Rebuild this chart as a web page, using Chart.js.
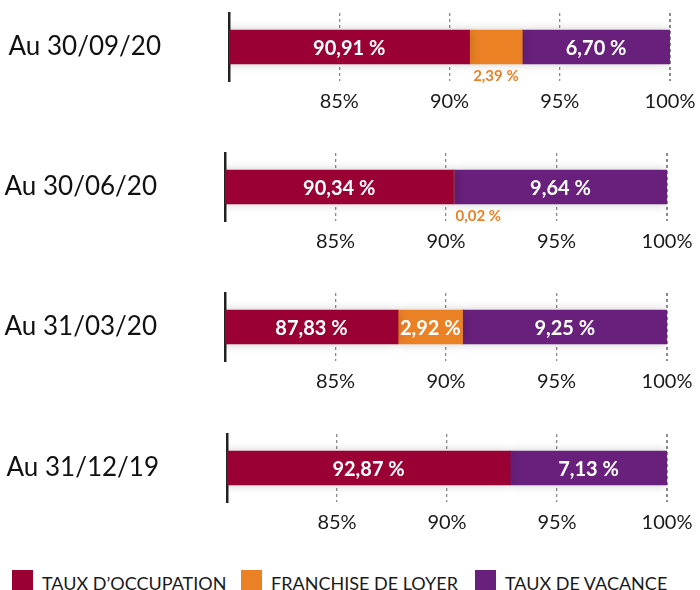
<!DOCTYPE html>
<html lang="fr">
<head>
<meta charset="utf-8">
<script src="https://cdn.jsdelivr.net/npm/chart.js@4/dist/chart.umd.min.js"></script>
<style>
  body { margin: 0; background: #fff; width: 700px; height: 590px; position: relative; font-family: Lato, "DejaVu Sans", sans-serif; }
  .panel { position: absolute; left: 0; width: 700px; height: 140px; }
  #legende { position: absolute; left: 0; top: 570px; width: 700px; height: 21px; }
  .item { position: absolute; top: 0; height: 21px; display: flex; align-items: center; font-size: 18px; color: #1a1a1a; }
  .item span.carre { display: inline-block; width: 21px; height: 21px; margin-right: 9px; }
  .item span.nom { position: relative; top: 2px; }
</style>
</head>
<body>
<div class="panel" style="top:0px"><canvas id="c0" width="700" height="140"></canvas></div>
<div class="panel" style="top:140px"><canvas id="c1" width="700" height="140"></canvas></div>
<div class="panel" style="top:280px"><canvas id="c2" width="700" height="140"></canvas></div>
<div class="panel" style="top:421px"><canvas id="c3" width="700" height="140"></canvas></div>
<div id="legende"></div>

<script>
// Données
const periodes = ["Au 30/09/20", "Au 30/06/20", "Au 31/03/20", "Au 31/12/19"];
const tauxOccupation = [90.91, 90.34, 87.83, 92.87];
const franchiseLoyer = [2.39, 0.02, 2.92, null];
const tauxVacance = [6.70, 9.64, 9.25, 7.13];
const graduations = [85, 90, 95, 100];
const nomsSeries = ["TAUX D\u2019OCCUPATION", "FRANCHISE DE LOYER", "TAUX DE VACANCE"];
const couleurs = ["#9b0035", "#eb8125", "#69207c"];

// petits ajustements de position par panneau
const gauche = [229, 225, 225, 227];
const droite = [30, 33, 33, 33];

function formatPct(v) {
    return v.toFixed(2).replace(".", ",") + " %";
}

// ombre légère + étiquettes dans les barres
const etiquettes = {
    id: "etiquettes",
    beforeDatasetsDraw(chart) {
        const ctx = chart.ctx;
        ctx.save();
        ctx.shadowColor = "rgba(0,0,0,0.2)";
        ctx.shadowBlur = 10;
    },
    afterDatasetsDraw(chart) {
        const ctx = chart.ctx;
        const zone = chart.chartArea;
        ctx.restore();
        ctx.save();
        chart.data.datasets.forEach((ds, i) => {
            const meta = chart.getDatasetMeta(i);
            meta.data.forEach((bar, j) => {
                const v = ds.data[j];
                if (v == null) return;
                const txt = formatPct(v);
                // la barre commence à 0, on la coupe au bord de la zone
                const debut = Math.max(Math.min(bar.base, bar.x), zone.left);
                const fin = Math.min(Math.max(bar.base, bar.x), zone.right);
                ctx.textBaseline = "middle";
                ctx.textAlign = "center";
                if (v < 2.5) {
                    // petites valeurs : étiquette orange sous la barre
                    ctx.font = "bold 15px Lato, sans-serif";
                    ctx.fillStyle = couleurs[1];
                    const w = ctx.measureText(txt).width;
                    const cx = Math.max((debut + fin) / 2, debut + w / 2 + 2);
                    ctx.fillText(txt, cx, bar.y + bar.height / 2 + 12);
                } else {
                    ctx.font = "bold 20px Lato, sans-serif";
                    ctx.fillStyle = "#ffffff";
                    ctx.fillText(txt, (debut + fin) / 2, bar.y + 1.5);
                }
            });
        });
        ctx.restore();
    }
};

periodes.forEach((periode, k) => {
    const ctx = document.getElementById("c" + k).getContext("2d");
    const series = [tauxOccupation, franchiseLoyer, tauxVacance];
    new Chart(ctx, {
        type: "bar",
        data: {
            labels: [periode],
            datasets: series.map((s, i) => ({
                label: nomsSeries[i],
                data: [s[k]],
                backgroundColor: couleurs[i],
                borderWidth: 0,
                barThickness: 34,
            })),
        },
        options: {
            indexAxis: "y",
            responsive: false,
            animation: false,
            layout: { padding: { top: 13, right: droite[k], left: 0, bottom: 17 } },
            scales: {
                x: {
                    stacked: true,
                    min: 80,
                    max: 100,
                    afterBuildTicks: (scale) => {
                        scale.ticks = [{ value: 80 }].concat(graduations.map((g) => ({ value: g })));
                    },
                    afterFit: (scale) => {
                        scale.paddingLeft = 0;
                        scale.paddingRight = 0;
                    },
                    ticks: {
                        padding: 9,
                        color: "#1a1a1a",
                        font: { family: "Lato", size: 20 },
                        callback: (v) => (v === 80 ? "" : v + "%"),
                    },
                    grid: {
                        drawTicks: false,
                        color: (c) => (c.tick && c.tick.value === 80 ? "rgba(0,0,0,0)" : "#8a8a8a"),
                        lineWidth: (c) => (c.tick && c.tick.value === 100 ? 2 : 1.3),
                    },
                    border: { display: false, dash: [3, 3] },
                },
                y: {
                    stacked: true,
                    afterFit: (scale) => {
                        scale.width = gauche[k];
                        scale.paddingTop = 0;
                        scale.paddingBottom = 0;
                    },
                    ticks: {
                        padding: 68,
                        color: "#111",
                        font: { family: "Lato", size: 26 },
                    },
                    grid: { display: false, drawTicks: false },
                    border: { display: true, color: "#222", width: 2.5 },
                },
            },
            plugins: {
                legend: { display: false },
                tooltip: { enabled: false },
            },
        },
        plugins: [etiquettes],
    });
});

// légende en bas
const posLegende = [12, 241, 475];
const legende = document.getElementById("legende");
nomsSeries.forEach((nom, i) => {
    const d = document.createElement("div");
    d.className = "item";
    d.style.left = posLegende[i] + "px";
    d.innerHTML = '<span class="carre" style="background:' + couleurs[i] + '"></span><span class="nom">' + nom + "</span>";
    legende.appendChild(d);
});
</script>
</body>
</html>
